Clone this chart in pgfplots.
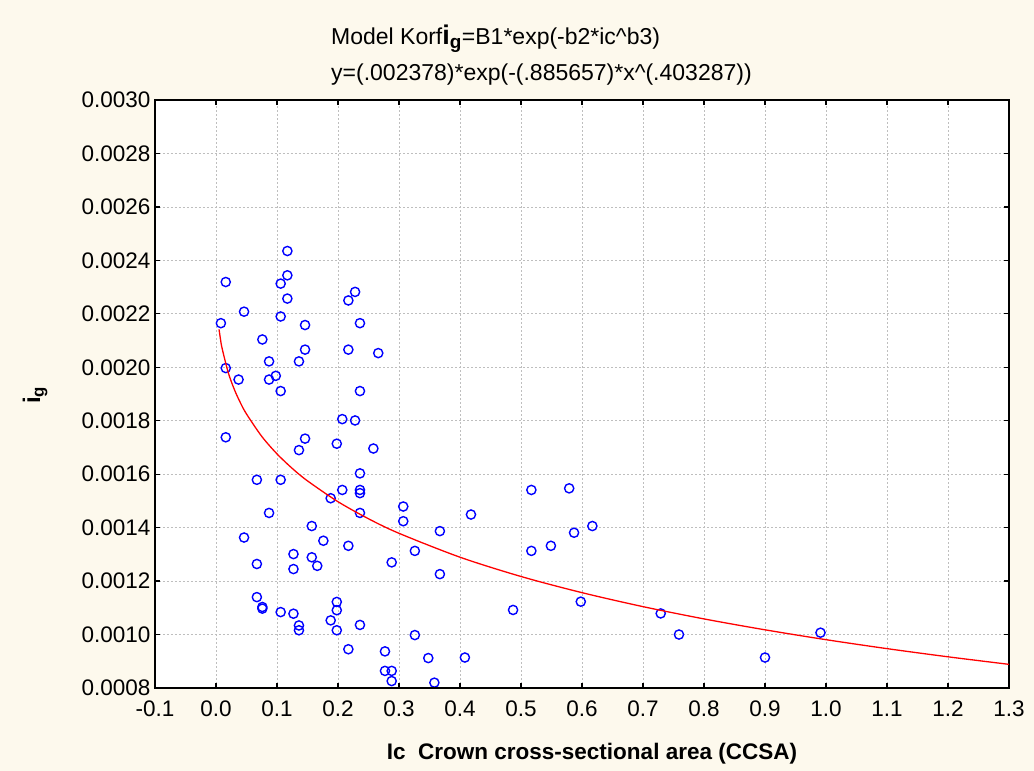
\documentclass[border=0pt]{standalone}
\usepackage{pgfplots}
\pgfplotsset{compat=1.18}
\usepackage{fontspec}
\setmainfont{Liberation Sans}
\definecolor{cream}{RGB}{253,249,237}
\definecolor{gridgray}{RGB}{190,190,190}
\definecolor{ptblue}{RGB}{0,0,255}
\definecolor{fitred}{RGB}{255,0,0}
\begin{document}
\begin{tikzpicture}
\fill[cream] (-155pt,-83pt) rectangle (879pt,688pt);
\begin{axis}[
  scale only axis,
  width=854pt, height=588pt,
  at={(0pt,0pt)}, anchor=south west,
  xmin=-0.1, xmax=1.3, ymin=0.0008, ymax=0.0030,
  axis background/.style={fill=white},
  xtick={-0.1,0,0.1,0.2,0.3,0.4,0.5,0.6,0.7,0.8,0.9,1.0,1.1,1.2,1.3},
  ytick={0.0008,0.0010,0.0012,0.0014,0.0016,0.0018,0.0020,0.0022,0.0024,0.0026,0.0028,0.0030},
  scaled y ticks=false, scaled x ticks=false,
  /pgf/number format/assume math mode=true,
  xticklabel style={/pgf/number format/.cd, fixed, fixed zerofill, precision=1, /tikz/.cd, yshift=-9pt},
  yticklabel style={/pgf/number format/.cd, fixed, fixed zerofill, precision=4, /tikz/.cd, xshift=-1pt},
  ticklabel style={font=\fontsize{22.5}{26}\selectfont, text=black},
  tick align=inside, major tick length=5pt,
  tick style={black, line width=1.2pt},
  axis line style={black, line width=1.4pt},
  grid=major,
  major grid style={gridgray, dash pattern=on 2pt off 2pt, line width=0.8pt},
  clip marker paths=true,
  after end axis/.code={
    \draw[black, line width=2.2pt] (rel axis cs:0,1) -- (rel axis cs:0,0) -- (rel axis cs:1,0);
  },
]
\addplot[only marks, mark=o, mark size=4.6pt, mark options={ptblue, line width=1.4pt}] coordinates {
(0.117,0.002435) (0.016,0.002319) (0.117,0.002344) (0.106,0.002313) (0.228,0.002282)
(0.217,0.002250) (0.117,0.002257) (0.046,0.002208) (0.008,0.002165) (0.106,0.002190)
(0.146,0.002158) (0.236,0.002165) (0.076,0.002104) (0.146,0.002066) (0.217,0.002066)
(0.266,0.002053) (0.087,0.002022) (0.136,0.002022) (0.016,0.001997) (0.037,0.001954)
(0.087,0.001954) (0.098,0.001968) (0.106,0.001911) (0.236,0.001911) (0.207,0.001806)
(0.228,0.001801) (0.016,0.001738) (0.146,0.001733) (0.136,0.001690) (0.198,0.001714)
(0.258,0.001696)
(0.236,0.001603) (0.067,0.001579) (0.106,0.001579) (0.207,0.001541) (0.236,0.001541)
(0.236,0.001529) (0.188,0.001510) (0.307,0.001479) (0.087,0.001455) (0.236,0.001455)
(0.307,0.001424) (0.157,0.001406) (0.367,0.001387) (0.046,0.001363) (0.176,0.001351)
(0.217,0.001332) (0.326,0.001313) (0.127,0.001301) (0.157,0.001289) (0.288,0.001270)
(0.067,0.001264) (0.166,0.001257) (0.127,0.001245) (0.367,0.001226) (0.067,0.001140)
(0.076,0.001103) (0.076,0.001097) (0.106,0.001084) (0.127,0.001078) (0.198,0.001122)
(0.198,0.001091) (0.188,0.001053) (0.136,0.001034) (0.136,0.001016) (0.198,0.001016)
(0.236,0.001036) (0.326,0.000998) (0.217,0.000945) (0.277,0.000937) (0.348,0.000912)
(0.277,0.000864) (0.288,0.000864) (0.288,0.000826) (0.358,0.000820)
(0.418,0.001449) (0.517,0.001541) (0.579,0.001547) (0.617,0.001406) (0.587,0.001381)
(0.549,0.001332) (0.517,0.001313) (0.598,0.001123) (0.487,0.001092) (0.729,0.001079)
(0.759,0.001000) (0.408,0.000914) (0.900,0.000914) (0.991,0.001007)
};
\addplot[fitred, line width=1.3pt, smooth, no marks] coordinates {
(0.005,0.0021419) (0.0075,0.0021025) (0.01,0.0020709) (0.02,0.0019806) (0.03,0.0019173)
(0.04,0.0018672) (0.05,0.0018252) (0.075,0.0017414) (0.1,0.0016759) (0.125,0.0016216)
(0.15,0.0015749) (0.2,0.0014970) (0.25,0.0014332) (0.3,0.0013788) (0.4,0.0012894)
(0.5,0.0012172) (0.6,0.0011567) (0.7,0.0011044) (0.8,0.0010585) (0.9,0.0010177)
(1.0,0.0009808) (1.1,0.0009473) (1.2,0.0009167) (1.3,0.0008885)
};
\end{axis}
\node[anchor=base west, font=\fontsize{23}{27}\selectfont, inner sep=0pt] at (176pt,643pt)
  {Model Korf{\bfseries\fontsize{27}{30}\selectfont i\textsubscript{g}}=B1*exp(-b2*ic\textasciicircum b3)};
\node[anchor=base west, font=\fontsize{23}{27}\selectfont, inner sep=0pt] at (176pt,607pt)
  {y=(.002378)*exp(-(.885657)*x\textasciicircum(.403287))};
\node[rotate=90, font=\bfseries\fontsize{24}{28}\selectfont, inner sep=0pt] at (-120pt,293pt)
  {i\textsubscript{g}};
\node[font=\bfseries\fontsize{22.5}{26}\selectfont, inner sep=0pt] at (437pt,-66pt)
  {Ic\ \ Crown cross-sectional area (CCSA)};
\end{tikzpicture}
\end{document}
